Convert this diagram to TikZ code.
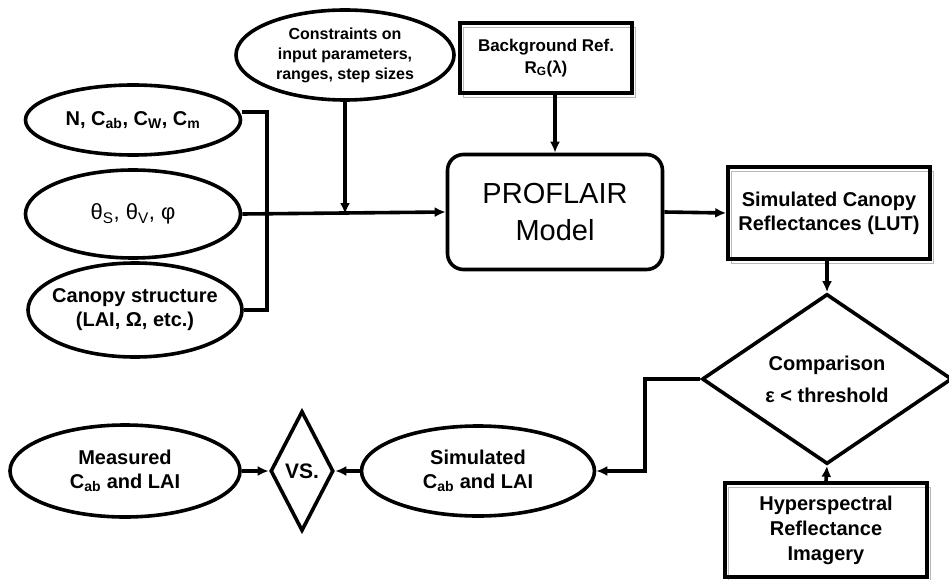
\documentclass[tikz,border=0pt]{standalone}
\usepackage{fontspec}
\setmainfont{Liberation Sans}
\usetikzlibrary{shapes.geometric,arrows.meta,shadows}
\begin{document}
\begin{tikzpicture}[x=1pt,y=-1pt,line width=3.6pt,
  oval/.style={draw,ellipse,inner xsep=-10pt,inner ysep=0pt,align=center,font=\bfseries\fontsize{20}{24}\selectfont},
  boxnode/.style={draw,rectangle,inner sep=0pt,align=center,font=\bfseries\fontsize{20}{24}\selectfont,
    copy shadow={shadow xshift=3pt,shadow yshift=-4pt,draw=gray!55,fill=none,line width=0.8pt}},
  gate/.style={draw,diamond,inner sep=0pt,align=center,font=\bfseries\fontsize{20}{24}\selectfont},
  flow/.style={-{Latex[length=11pt,width=10pt]}}]
\useasboundingbox (0,0) rectangle (949,580);
\node[oval,minimum width=215pt,minimum height=70pt] (leaf) at (133,120) {N, C\textsubscript{ab}, C\textsubscript{W}, C\textsubscript{m}};
\node[oval,minimum width=215pt,minimum height=88pt,font=\fontsize{22}{26}\selectfont] (angles) at (133,214) {θ\textsubscript{S}, θ\textsubscript{V}, φ};
\node[oval,minimum width=214pt,minimum height=94pt] (canopy) at (135,310) {Canopy structure\\(LAI, Ω, etc.)};
\node[oval,minimum width=218pt,minimum height=90pt,font=\bfseries\fontsize{16}{20}\selectfont] (limits) at (345,55) {Constraints on\\input parameters,\\ranges, step sizes};
\node[boxnode,minimum width=172pt,minimum height=70pt,font=\bfseries\fontsize{17}{22}\selectfont] (soil) at (546,58) {Background Ref.\\R\textsubscript{G}(λ)};
\node[draw,rectangle,rounded corners=16pt,minimum width=215pt,minimum height=115pt,align=center,font=\fontsize{29}{37}\selectfont] (model) at (555,212) {PROFLAIR\\Model};
\node[boxnode,minimum width=202pt,minimum height=92pt] (lut) at (829,213) {Simulated Canopy\\Reflectances (LUT)};
\node[gate,minimum width=250pt,minimum height=138pt] (cmp) at (827,379) {Comparison\\[8pt]ε < threshold};
\node[boxnode,minimum width=202pt,minimum height=94pt,font=\bfseries\fontsize{20}{25}\selectfont] (hyper) at (826,530) {Hyperspectral\\Reflectance\\Imagery};
\node[oval,minimum width=233pt,minimum height=90pt] (sim) at (478,471) {Simulated\\C\textsubscript{ab} and LAI};
\node[gate,minimum width=63pt,minimum height=120pt,font=\bfseries\fontsize{21}{24}\selectfont] (vs) at (302,471) {VS.};
\node[oval,minimum width=230pt,minimum height=92pt] (meas) at (125,471) {Measured\\C\textsubscript{ab} and LAI};
\coordinate (bustop) at (267,112);
\coordinate (busbot) at (267,310);
\coordinate (bend) at (645,471);
\draw (leaf.east |- bustop) -- (bustop) -- (busbot) -- (canopy.east);
\draw[flow] (angles.east) -- (model.west);
\draw[flow] (limits.south) -- (limits.south |- angles.east);
\draw[flow] (model.north |- soil.south) -- (model.north);
\draw[flow] (model.east) -- (lut.west);
\draw[flow] (lut.south -| cmp.north) -- (cmp.north);
\draw[flow] (hyper.north) -- (cmp.south);
\draw[flow] (cmp.west) -| (bend) -- (sim.east);
\draw[flow] (meas.east) -- (vs.west);
\draw[flow] (sim.west) -- (vs.east);
\end{tikzpicture}
\end{document}
